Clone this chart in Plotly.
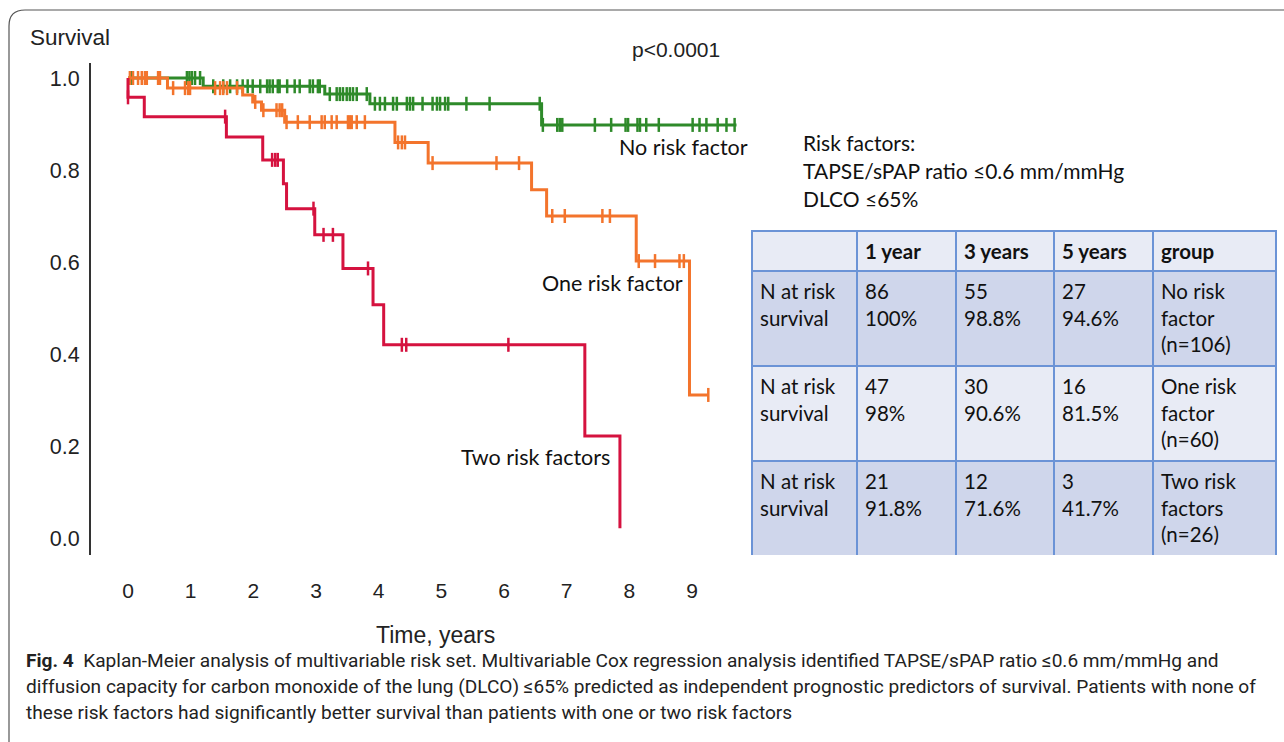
import numpy as np
import plotly.graph_objects as go

W, H = 1284, 742

# ---- Kaplan-Meier step data (time in years, survival) ----
green_t = [0.0, 1.20, 3.14, 3.86, 6.60, 9.71]
green_s = [1.0, 0.982, 0.965, 0.944, 0.898, 0.898]
green_c = [0.05, 0.94, 0.98, 1.02, 1.07, 1.15, 1.36, 1.52, 1.63, 1.74, 1.83, 1.91, 1.99,
           2.11, 2.22, 2.26, 2.31, 2.39, 2.42, 2.54, 2.66, 2.74, 2.90, 2.95, 3.03, 3.06,
           3.22, 3.33, 3.38, 3.43, 3.49, 3.54, 3.59, 3.65, 3.81, 3.94, 4.02, 4.10, 4.23,
           4.29, 4.45, 4.50, 4.55, 4.70, 4.86, 4.93, 4.98, 5.06, 5.11, 5.40, 5.77, 6.57,
           6.62, 6.85, 6.89, 6.93, 7.45, 7.71, 7.94, 7.98, 8.13, 8.17, 8.27, 8.47, 9.01,
           9.12, 9.23, 9.41, 9.55, 9.68]

orange_t = [0.0, 0.63, 1.83, 1.99, 2.13, 2.50, 4.26, 4.79, 6.44, 6.68, 8.11, 8.96, 9.26]
orange_s = [1.0, 0.978, 0.963, 0.948, 0.930, 0.904, 0.860, 0.815, 0.757, 0.700, 0.602, 0.311, 0.311]
orange_c = [0.03, 0.08, 0.16, 0.22, 0.27, 0.30, 0.48, 0.51, 0.72, 0.91, 0.96, 0.99, 1.39,
            1.47, 1.52, 1.58, 1.74, 2.03, 2.16, 2.37, 2.42, 2.46, 2.53, 2.71, 2.90, 3.09,
            3.14, 3.25, 3.33, 3.51, 3.54, 3.57, 3.65, 3.78, 4.31, 4.37, 4.42, 4.86, 5.88,
            6.24, 6.77, 6.97, 7.57, 7.69, 8.15, 8.41, 8.80, 8.87, 9.26]

red_t = [0.0, 0.0, 0.26, 1.57, 2.15, 2.48, 2.53, 2.98, 3.43, 3.91, 4.08, 7.29, 7.85]
red_s = [1.0, 0.958, 0.916, 0.872, 0.822, 0.770, 0.716, 0.659, 0.586, 0.507, 0.420, 0.222, 0.021]
red_c = [0.0, 1.55, 2.30, 2.35, 2.39, 2.96, 3.12, 3.27, 3.83, 4.37, 4.44, 6.07]

x_ticks = [0, 1, 2, 3, 4, 5, 6, 7, 8, 9]
y_ticks = [0.0, 0.2, 0.4, 0.6, 0.8, 1.0]
y_ticktext = ["0.0", "0.2", "0.4", "0.6", "0.8", "1.0"]

# ---- table data ----
tbl_header = ["", "1 year", "3 years", "5 years", "group"]
tbl_rowlab = ["N at risk<br>survival"] * 3
tbl_1y = ["86<br>100%", "47<br>98%", "21<br>91.8%"]
tbl_3y = ["55<br>98.8%", "30<br>90.6%", "12<br>71.6%"]
tbl_5y = ["27<br>94.6%", "16<br>81.5%", "3<br>41.7%"]
tbl_group = ["No risk<br>factor<br>(n=106)", "One risk<br>factor<br>(n=60)", "Two risk<br>factors<br>(n=26)"]

GREEN, ORANGE, RED = "#2e8a2a", "#f3742c", "#d5123f"


def step_value(t_arr, s_arr, t):
    t_arr = np.asarray(t_arr)
    idx = np.searchsorted(t_arr, t, side="right") - 1
    return np.asarray(s_arr)[np.clip(idx, 0, len(s_arr) - 1)]


def px(x):
    return x / W


def py(y):
    return 1 - y / H


fig = go.Figure()
for t, s, c, col, name in [(green_t, green_s, green_c, GREEN, "No risk factor"),
                           (orange_t, orange_s, orange_c, ORANGE, "One risk factor"),
                           (red_t, red_s, red_c, RED, "Two risk factors")]:
    fig.add_trace(go.Scatter(x=t, y=s, mode="lines", line=dict(color=col, width=3, shape="hv"),
                             name=name, showlegend=False, hoverinfo="skip"))
    fig.add_trace(go.Scatter(x=c, y=step_value(t, s, c), mode="markers",
                             marker=dict(symbol="line-ns", size=10, color=col,
                                         line=dict(color=col, width=2.5)),
                             showlegend=False, hoverinfo="skip"))

x0_px, x9_px = 128, 692
sx = (x9_px - x0_px) / 9
y1_px, y0_px = 78, 538
sy = (y0_px - y1_px)
left_px, right_px = 91, 750
top_px, bot_px = 63, 555

fig.add_trace(go.Table(
    domain=dict(x=[px(752), px(1276)], y=[py(556), py(231)]),
    columnwidth=[105, 99, 98, 99, 123],
    header=dict(values=["<b>%s</b>" % h for h in tbl_header], height=37,
                fill_color="#e8ebf5", line=dict(color="#6b93d6", width=1.5),
                align="left", font=dict(family="Lato", size=20.5, color="#111")),
    cells=dict(values=[tbl_rowlab, tbl_1y, tbl_3y, tbl_5y, tbl_group], height=95,
               fill_color=[["#cfd6eb", "#e8ebf5", "#cfd6eb"]] * 5,
               line=dict(color="#6b93d6", width=1.5),
               align="left", font=dict(family="Lato", size=20.5, color="#111")),
))

fig.update_layout(
    width=W, height=H, margin=dict(l=0, r=0, t=0, b=0),
    paper_bgcolor="white", plot_bgcolor="white",
    xaxis=dict(domain=[px(left_px), px(right_px)],
               range=[(left_px - x0_px) / sx, (right_px - x0_px) / sx],
               tickvals=x_ticks, showgrid=False, zeroline=False, showline=False, ticks="",
               ticklabelstandoff=21,
               tickfont=dict(family="Liberation Sans", size=21, color="#222")),
    yaxis=dict(domain=[py(bot_px), py(top_px)],
               range=[(y0_px - bot_px) / sy, (y0_px - top_px) / sy],
               tickvals=y_ticks, ticktext=y_ticktext, showgrid=False, zeroline=False,
               showline=True, linewidth=2, linecolor="#333", ticks="",
               ticklabelstandoff=5,
               tickfont=dict(family="Liberation Sans", size=21.5, color="#222")),
)

ann = []


def add_text(text, x, y, size, family, xanchor="left", color="#222"):
    ann.append(dict(text=text, x=px(x), y=py(y), xref="paper", yref="paper",
                    xanchor=xanchor, yanchor="middle", showarrow=False,
                    font=dict(family=family, size=size, color=color)))


add_text("Survival", 28, 37, 22.5, "Liberation Sans")
add_text("Time, years", 435, 635, 23, "Liberation Sans", "center")
add_text("p<0.0001", 676, 50, 21, "Liberation Sans", "center")
add_text("No risk factor", 684, 147, 21.5, "Lato", "center", "#111")
add_text("One risk factor", 612, 283, 21.5, "Lato", "center", "#111")
add_text("Two risk factors", 535, 457, 21.5, "Lato", "center", "#111")
add_text("Risk factors:", 801, 142, 21, "Lato", "left", "#111")
add_text("TAPSE/sPAP ratio ≤0.6 mm/mmHg", 801, 171, 21, "Lato", "left", "#111")
add_text("DLCO ≤65%", 801, 199, 21, "Lato", "left", "#111")

cap = ["<b>Fig. 4</b>  Kaplan-Meier analysis of multivariable risk set. Multivariable Cox regression analysis identified TAPSE/sPAP ratio ≤0.6 mm/mmHg and",
       "diffusion capacity for carbon monoxide of the lung (DLCO) ≤65% predicted as independent prognostic predictors of survival. Patients with none of",
       "these risk factors had significantly better survival than patients with one or two risk factors"]
for i, line in enumerate(cap):
    add_text(line, 24, 660 + 26 * i, 19.1, "Roboto", "left", "#222")

fig.update_layout(annotations=ann)

# rounded outer frame of the figure panel
r = 16
fig.add_shape(type="path", xref="paper", yref="paper",
              path=f"M {px(9)},{py(760)} L {px(9)},{py(10 + r)} Q {px(9)},{py(10)} {px(9 + r)},{py(10)} L {px(1300)},{py(10)}",
              line=dict(color="#555", width=1.2))

fig.write_html("out.html", config={"displayModeBar": False},
               post_script="document.body.style.margin='0px';")
